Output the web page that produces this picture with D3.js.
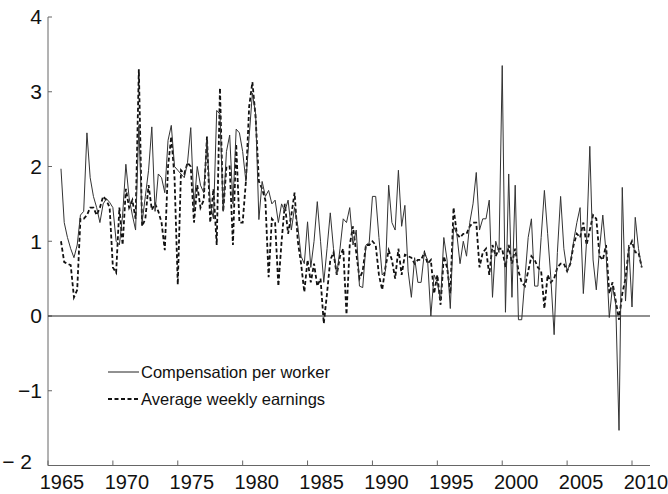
<!DOCTYPE html>
<html>
<head>
<meta charset="utf-8">
<script src="https://cdn.jsdelivr.net/npm/d3@7"></script>
<style>
  body { margin: 0; background: #fff; }
  svg text { font-family: "Liberation Sans", Arial, sans-serif; fill: #111; }
</style>
</head>
<body>
<div id="chart"></div>
<script>
// quarterly, 1966Q1 .. 2010Q4
const startYear = 1966;

const compensation = [
  1.97, 1.25, 1.05, 0.9,
  0.78, 0.95, 1.35, 1.4,
  2.45, 1.85, 1.6, 1.45,
  1.25, 1.5, 1.57, 1.52,
  1.45, 1.0, 0.95, 1.35,
  2.03, 1.58, 1.35, 1.15,
  2.55, 1.25, 1.6, 1.95,
  2.53, 1.4, 1.9, 1.85,
  1.65, 2.35, 2.55, 2.0,
  1.95, 1.9, 1.85, 2.05,
  2.52, 1.45, 2.0, 1.75,
  1.65, 2.35, 1.5, 1.3,
  2.75, 2.7, 1.4, 2.2,
  2.42, 1.5, 2.5, 2.45,
  2.2, 1.8, 2.4, 2.98,
  2.7, 1.29, 1.8, 1.6,
  1.68, 1.5, 1.55, 1.25,
  1.5, 1.4, 1.55, 1.15,
  1.45, 1.2, 0.8, 0.7,
  1.26, 0.65, 1.0, 1.53,
  1.0, 0.45, 0.9, 1.38,
  0.9, 0.55, 0.9, 1.3,
  1.25, 1.45, 0.95, 1.15,
  0.4, 0.38, 0.95, 0.98,
  1.6, 1.6, 1.05, 0.55,
  0.6, 1.75, 1.25, 1.15,
  1.95, 1.2, 1.48, 0.6,
  0.25, 0.78, 0.45, 0.45,
  0.85, 0.75, 0.0, 0.55,
  0.45, 0.2, 1.05, 0.75,
  0.1, 1.2, 1.1, 0.7,
  1.0, 0.8, 1.25, 1.5,
  1.92, 1.15, 1.3, 1.3,
  1.55, 0.25, 1.0, 0.85,
  3.35, 0.05, 1.9, 0.25,
  1.75, -0.05, -0.05, 0.5,
  1.05, 1.3, 0.4, 0.4,
  1.05, 1.68, 1.1, 0.5,
  -0.25, 0.85, 1.6, 0.9,
  0.6, 0.7, 1.0, 1.25,
  1.45, 0.3, 1.0, 2.27,
  0.75, 0.35, 0.9, 1.35,
  0.85, -0.02, 0.4, 0.15,
  -1.53, 1.72, 0.2, 0.95,
  0.12, 1.32, 0.9, 0.65
];

const weeklyEarnings = [
  1.0, 0.72, 0.7, 0.68,
  0.25, 0.35, 1.3, 1.3,
  1.35, 1.45, 1.45, 1.35,
  1.45, 1.6, 1.55, 1.45,
  0.65, 0.58, 1.45, 0.95,
  1.7, 1.45, 1.55, 1.3,
  3.3, 1.2, 1.3, 1.75,
  1.42, 1.5, 1.4, 1.25,
  0.88, 2.0, 2.4, 1.85,
  0.42, 1.95, 1.9, 2.05,
  2.0, 1.25, 1.75, 1.45,
  1.55, 2.4, 1.25, 1.7,
  0.95, 3.05, 1.4, 2.0,
  2.0, 0.95, 2.3, 1.25,
  1.25, 1.8, 2.8, 3.13,
  2.65, 1.8, 1.7, 1.55,
  0.52, 1.3, 1.25, 0.4,
  1.0, 1.5, 1.1, 1.35,
  1.65, 1.0, 0.7, 0.32,
  0.75, 0.45, 0.7, 0.4,
  0.5, -0.1, 0.3, 0.75,
  0.85, 0.55, 0.8, 0.9,
  0.02, 0.95, 1.2, 0.85,
  0.5, 0.6, 0.95, 0.95,
  1.0, 0.95, 0.55, 0.35,
  0.65, 0.88, 0.75, 0.5,
  0.9, 0.55, 0.82, 0.8,
  0.78, 0.7, 0.75, 0.75,
  0.85, 0.7, 0.75, 0.3,
  0.55, 0.15, 0.8, 0.65,
  0.3, 1.45, 1.1, 1.05,
  1.1, 1.1, 1.2, 1.25,
  1.25, 0.65, 0.85, 0.9,
  0.55, 0.95, 0.8, 0.9,
  0.9, 0.65, 0.95, 0.7,
  0.9, 0.6, 0.45, 0.4,
  0.6, 0.8, 0.75, 0.65,
  0.6, 0.1, 0.55, 0.45,
  0.5, 0.65, 0.7, 0.7,
  0.6, 0.7, 0.95, 1.1,
  1.05, 1.25, 0.95, 1.15,
  1.35, 1.3, 0.8, 0.75,
  0.95, 0.3, 0.45, 0.2,
  -0.05, 0.3, 0.5, 0.9,
  1.0, 0.85, 0.85, 0.65
];

const xTicks = [1965, 1970, 1975, 1980, 1985, 1990, 1995, 2000, 2005, 2010];
const yTicks = [-2, -1, 0, 1, 2, 3, 4];
const seriesNames = ['Compensation per worker', 'Average weekly earnings'];

const width = 668, height = 494;
const margin = { top: 17, right: 18, bottom: 28, left: 48 };

const x = d3.scaleLinear().domain([1965, 2010]).range([margin.left, 632]);
const y = d3.scaleLinear().domain([-2, 4]).range([height - margin.bottom - 0.5, margin.top]);
const xEnd = width - margin.right;

const svg = d3.select('#chart').append('svg')
  .attr('width', width)
  .attr('height', height);

const toPoints = (vals) => vals.map((v, i) => ({ t: startYear + i / 4, v }));

// axes
const xAxis = svg.append('g')
  .attr('transform', 'translate(0,' + y(-2) + ')');
xAxis.append('line')
  .attr('x1', margin.left).attr('x2', xEnd)
  .attr('stroke', '#666').attr('stroke-width', 1);
xAxis.selectAll('.tick')
  .data(xTicks)
  .join('line')
  .attr('x1', (d) => x(d)).attr('x2', (d) => x(d))
  .attr('y1', 0).attr('y2', -5)
  .attr('stroke', '#666');
xAxis.selectAll('text')
  .data(xTicks)
  .join('text')
  .attr('x', (d) => x(d) + 14)
  .attr('y', 23)
  .attr('text-anchor', 'middle')
  .style('font-size', '20px')
  .text((d) => d);

const yAxis = svg.append('g');
yAxis.append('line')
  .attr('x1', margin.left).attr('x2', margin.left)
  .attr('y1', y(4)).attr('y2', y(-2))
  .attr('stroke', '#666');
yAxis.selectAll('.tick')
  .data(yTicks)
  .join('line')
  .attr('x1', margin.left).attr('x2', margin.left + 4)
  .attr('y1', (d) => y(d)).attr('y2', (d) => y(d))
  .attr('stroke', '#666');
yAxis.selectAll('text')
  .data(yTicks)
  .join('text')
  .attr('x', (d) => (d === -2 ? 32 : 42))
  .attr('y', (d) => (d === -2 ? y(d) - 4 : y(d)))
  .attr('dy', '0.35em')
  .attr('text-anchor', 'end')
  .style('font-size', '21px')
  .text((d) => (d < 0 ? (d === -2 ? '\u2212 2' : '\u2212' + Math.abs(d)) : d));

// zero line
svg.append('line')
  .attr('x1', margin.left).attr('x2', xEnd)
  .attr('y1', y(0)).attr('y2', y(0))
  .attr('stroke', '#222').attr('stroke-width', 1.1);

const line = d3.line()
  .x((d) => x(d.t))
  .y((d) => y(d.v));

svg.append('path')
  .datum(toPoints(weeklyEarnings))
  .attr('fill', 'none')
  .attr('stroke', '#111')
  .attr('stroke-width', 1.8)
  .attr('stroke-dasharray', '4,2.5')
  .attr('d', line);

svg.append('path')
  .datum(toPoints(compensation))
  .attr('fill', 'none')
  .attr('stroke', '#333')
  .attr('stroke-width', 1)
  .attr('d', line);

// legend
const legend = svg.append('g').attr('transform', 'translate(108,372)');
const styles = [
  { w: 1, dash: null, c: '#222' },
  { w: 1.8, dash: '4,2.5', c: '#111' }
];
seriesNames.forEach((name, i) => {
  const row = legend.append('g').attr('transform', 'translate(0,' + i * 27 + ')');
  row.append('line')
    .attr('x1', 0).attr('x2', 31)
    .attr('stroke', styles[i].c)
    .attr('stroke-width', styles[i].w)
    .attr('stroke-dasharray', styles[i].dash);
  row.append('text')
    .attr('x', 33)
    .attr('dy', '0.35em')
    .style('font-size', '16.5px')
    .text(name);
});
</script>
</body>
</html>
